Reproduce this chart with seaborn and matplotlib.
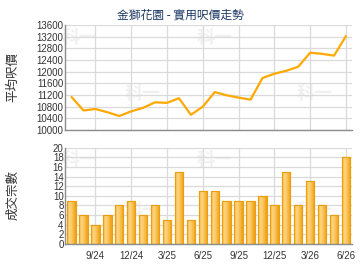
import matplotlib
matplotlib.use("Agg")
import matplotlib.pyplot as plt
from matplotlib.colors import LinearSegmentedColormap
import seaborn as sns
import pandas as pd
import numpy as np

# ======================
# Data
# ======================
MONTHS = ["7/24", "8/24", "9/24", "10/24", "11/24", "12/24", "1/25", "2/25",
          "3/25", "4/25", "5/25", "6/25", "7/25", "8/25", "9/25", "10/25",
          "11/25", "12/25", "1/26", "2/26", "3/26", "4/26", "5/26", "6/26"]
AVG_PRICE = [11130, 10670, 10720, 10610, 10480, 10640, 10760, 10950,
             10930, 11090, 10520, 10800, 11300, 11190, 11110, 11040,
             11780, 11930, 12030, 12170, 12650, 12610, 12550, 13220]
DEALS = [9, 6, 4, 6, 8, 9, 6, 8, 5, 15, 5, 11, 11, 9, 9, 9, 10, 8, 15, 8, 13, 8, 6, 18]
SHOWN_TICKS = ["9/24", "12/24", "3/25", "6/25", "9/25", "12/25", "3/26", "6/26"]

TITLE = "金獅花園 - 實用呎價走勢"
PRICE_LABEL = "平均呎價"
DEALS_LABEL = "成交宗數"

# ======================
# Style
# ======================
sns.set_style("white")
plt.rcParams["font.family"] = ["Liberation Sans", "Noto Sans CJK TC", "DejaVu Sans"]

LINE_COLOR = "#FFA800"
BAR_FACE = "#F8BC45"
BAR_EDGE = "#EC9F0C"
GRID = "#DADADA"
SPINE = "#8C8C8C"
TEXT = "#333333"

# horizontal shading inside each bar
bar_cmap = LinearSegmentedColormap.from_list(
    "bar", ["#F2A81E", "#FDD888", "#FBCB68", "#F6B43A", "#EFA010"])

df = pd.DataFrame({"month": MONTHS, "pos": np.arange(len(MONTHS)),
                   "price": AVG_PRICE, "deals": DEALS})
tick_pos = [MONTHS.index(m) for m in SHOWN_TICKS]

fig = plt.figure(figsize=(3.6, 2.7), dpi=100)
ax1 = fig.add_axes([0.1806, 0.5185, 0.797, 0.389])
ax2 = fig.add_axes([0.1806, 0.0963, 0.797, 0.3567])


def style_axis(ax):
    ax.set_xlim(-0.55, len(MONTHS) - 0.5)
    ax.set_xticks(tick_pos)
    ax.grid(True, color=GRID, linewidth=0.9)
    ax.set_axisbelow(True)
    for s in ["top", "right"]:
        ax.spines[s].set_visible(False)
    for s in ["left", "bottom"]:
        ax.spines[s].set_color(SPINE)
        ax.spines[s].set_linewidth(1.0)
    ax.tick_params(axis="both", labelsize=7, colors=TEXT, length=0, pad=1)
    ax.set_xlabel("")
    ax.set_ylabel("")


# watermark
def watermark(ax):
    for (x, y) in [(0.05, 0.88), (0.52, 0.88), (0.27, 0.35), (0.87, 0.35)]:
        ax.text(x, y, "科一", transform=ax.transAxes, fontsize=13, color="#F0F0F0",
                fontweight="bold", ha="center", va="center", zorder=0,
                family=["Noto Sans CJK TC"])


# top: price line
sns.lineplot(data=df, x="pos", y="price", ax=ax1, color=LINE_COLOR, linewidth=1.6)
style_axis(ax1)
ax1.set_ylim(10000, 13600)
ax1.set_yticks(np.arange(10000, 13601, 400))
ax1.set_xticklabels([])
watermark(ax1)

# bottom: deals bars
sns.barplot(data=df, x="month", y="deals", ax=ax2, color=BAR_FACE,
            edgecolor=BAR_EDGE, linewidth=0.8, width=0.7, saturation=1)
style_axis(ax2)
ax2.set_ylim(0, 20)
ax2.set_yticks(np.arange(0, 21, 2))
ax2.set_xticklabels(SHOWN_TICKS)
ax2.tick_params(axis="x", length=3, color=SPINE, pad=2)
watermark(ax2)

# gradient fill clipped to each bar
grad = np.linspace(0, 1, 64).reshape(1, -1)
for bar in ax2.patches:
    x0, y0 = bar.get_x(), bar.get_y()
    w, h = bar.get_width(), bar.get_height()
    im = ax2.imshow(grad, cmap=bar_cmap, aspect="auto", extent=[x0, x0 + w, y0, y0 + h],
                    zorder=bar.get_zorder() + 0.1, interpolation="bicubic")
    im.set_clip_path(bar)
    edge = plt.Rectangle((x0, y0), w, h, fill=False, edgecolor=BAR_EDGE, linewidth=0.8,
                         zorder=bar.get_zorder() + 0.2)
    ax2.add_patch(edge)
ax2.set_xlim(-0.55, len(MONTHS) - 0.5)
ax2.set_ylim(0, 20)

fig.text(0.5, 0.945, TITLE, ha="center", va="center", fontsize=8.5, color="#1E3A66",
         family=["Noto Sans CJK TC"])
fig.text(0.035, 0.714, PRICE_LABEL, rotation=90, ha="center", va="center",
         fontsize=9, color=TEXT, family=["Noto Sans CJK TC"])
fig.text(0.035, 0.277, DEALS_LABEL, rotation=90, ha="center", va="center",
         fontsize=9, color=TEXT, family=["Noto Sans CJK TC"])

fig.savefig("out.png", dpi=100)
